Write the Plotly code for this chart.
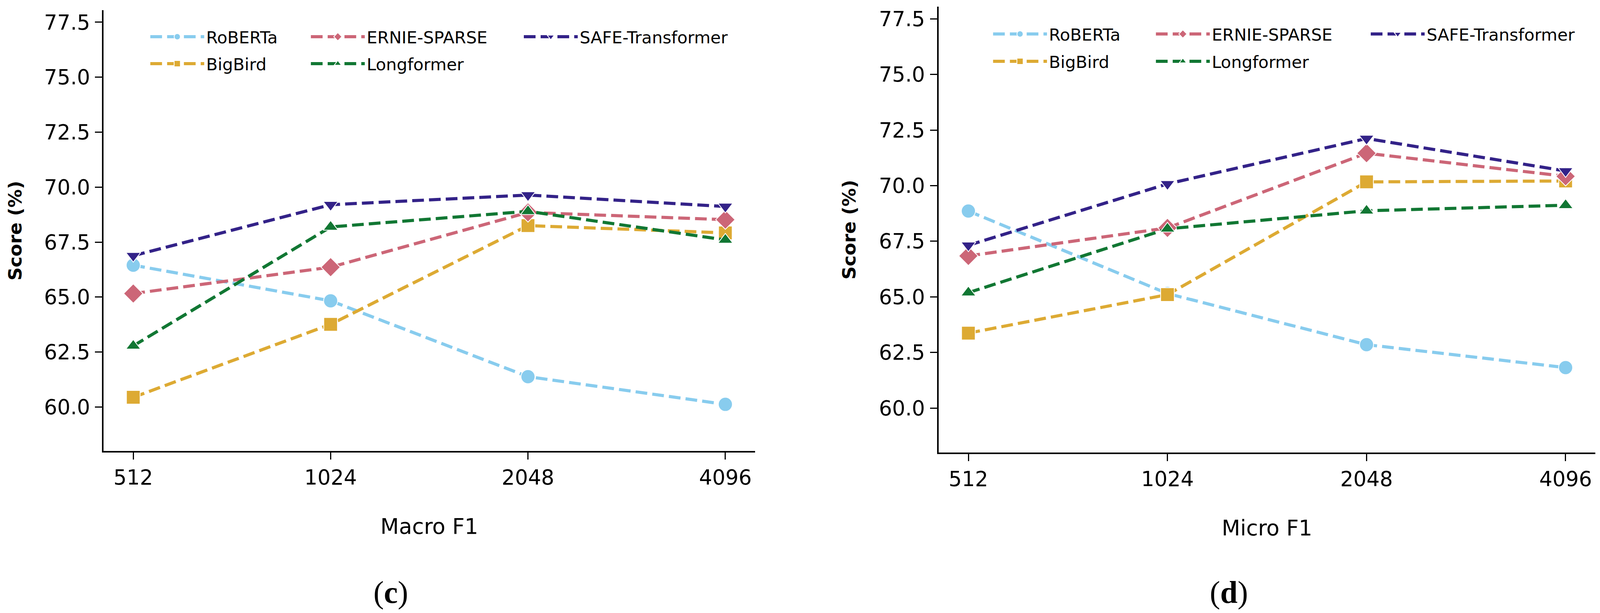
import plotly.graph_objects as go

lengths = ["512", "1024", "2048", "4096"]
models = ["RoBERTa", "BigBird", "ERNIE-SPARSE", "Longformer", "SAFE-Transformer"]

# Macro F1 (panel c)
macro_roberta = [66.45, 64.83, 61.38, 60.12]
macro_bigbird = [60.44, 63.76, 68.25, 67.92]
macro_ernie = [65.16, 66.36, 68.85, 68.52]
macro_longformer = [62.78, 68.19, 68.90, 67.60]
macro_safe = [66.88, 69.20, 69.64, 69.12]

# Micro F1 (panel d)
micro_roberta = [68.86, 65.15, 62.85, 61.82]
micro_bigbird = [63.37, 65.10, 70.17, 70.21]
micro_ernie = [66.84, 68.10, 71.46, 70.42]
micro_longformer = [65.19, 68.06, 68.87, 69.12]
micro_safe = [67.32, 70.08, 72.12, 70.66]

colors = ["#88CCEE", "#DDAA33", "#CC6677", "#117733", "#332288"]
symbols = ["circle", "square", "diamond", "triangle-up", "triangle-down"]
sizes = [36, 35, 38, 33, 33]

# the photographed area is 4096 px wide and the page body adds 8px,
# so positions measured on the 4245 px reference are mapped into it
OFF = 8
SX = 4096 / 4245
W, H = 4096 - OFF, 1570 - OFF
font = "DejaVu Sans"

def X(p):
    return (p * SX - OFF) / W

def Y(p):
    return 1 - (p - OFF) / H

macro = [macro_roberta, macro_bigbird, macro_ernie, macro_longformer, macro_safe]
micro = [micro_roberta, micro_bigbird, micro_ernie, micro_longformer, micro_safe]

# legend slot of each model, marker centres in reference px
col_x = [[462, 462, 888, 888, 1453], [2698, 2698, 3130, 3130, 3700]]
row_y = [[94, 163, 94, 163, 94], [87, 157, 87, 157, 87]]

fig = go.Figure()

ITEMW = 138
leg_style = dict(font=dict(family=font, size=43, color="black"), bgcolor="rgba(0,0,0,0)",
                 orientation="v", xanchor="left", yanchor="middle", itemwidth=ITEMW)

panels = [("x", "y", macro), ("x2", "y2", micro)]
n = 0
for p, (xa, ya, data) in enumerate(panels):
    for i, name in enumerate(models):
        n += 1
        key = "legend" if n == 1 else "legend%d" % n
        fig.add_trace(go.Scatter(
            x=lengths, y=data[i], name=name, xaxis=xa, yaxis=ya,
            mode="lines+markers",
            line=dict(color=colors[i], width=8, dash="30px,13px"),
            marker=dict(symbol=symbols[i], size=sizes[i], color=colors[i],
                        line=dict(color="white", width=2)),
            legend=key, showlegend=True,
        ))
        lx = (col_x[p][i] * SX - (ITEMW - 10) / 2 - 2 - OFF) / W
        fig.update_layout({key: dict(x=lx, y=Y(row_y[p][i]), **leg_style)})

axis_common = dict(
    showline=True, linecolor="black", linewidth=4, mirror=False,
    ticks="outside", ticklen=18, tickwidth=3, tickcolor="black",
    showgrid=False, zeroline=False, automargin=False,
    tickfont=dict(family=font, size=53, color="black"),
)
yticks = [60, 62.5, 65, 67.5, 70, 72.5, 75, 77.5]

fig.update_layout(
    width=W, height=H, showlegend=True,
    margin=dict(l=0, r=0, t=0, b=0, autoexpand=False),
    plot_bgcolor="white", paper_bgcolor="white",
    xaxis=dict(domain=[X(275), X(2003)], anchor="y", type="category",
               range=[-0.15, 3.15],
               title=dict(text="Macro F1", font=dict(family=font, size=55, color="black"), standoff=78),
               **axis_common),
    yaxis=dict(domain=[Y(1155), Y(26)], anchor="x", range=[58.0, 78.05],
               tickvals=yticks, tickformat=".1f", ticklabelstandoff=2, **axis_common),
    xaxis2=dict(domain=[X(2490), X(4233)], anchor="y2", type="category",
                range=[-0.15, 3.15],
                title=dict(text="Micro F1", font=dict(family=font, size=55, color="black"), standoff=78),
                **axis_common),
    yaxis2=dict(domain=[Y(1159), Y(17)], anchor="x2", range=[58.0, 78.05],
                tickvals=yticks, tickformat=".1f", ticklabelstandoff=2, **axis_common),
)

for xp, yp in [(40, 591), (2252, 588)]:
    fig.add_annotation(text="<b>Score (%)</b>", x=X(xp), y=Y(yp), xref="paper", yref="paper",
                       xanchor="center", yanchor="middle", textangle=-90, showarrow=False,
                       font=dict(family=font, size=47, color="black"))
fig.add_annotation(text="(<b>c</b>)", x=X(1037), y=Y(1517), xref="paper", yref="paper",
                   xanchor="center", yanchor="middle", showarrow=False,
                   font=dict(family="Liberation Serif", size=80, color="black"))
fig.add_annotation(text="(<b>d</b>)", x=X(3260), y=Y(1517), xref="paper", yref="paper",
                   xanchor="center", yanchor="middle", showarrow=False,
                   font=dict(family="Liberation Serif", size=80, color="black"))

fig.write_html("out.html")
